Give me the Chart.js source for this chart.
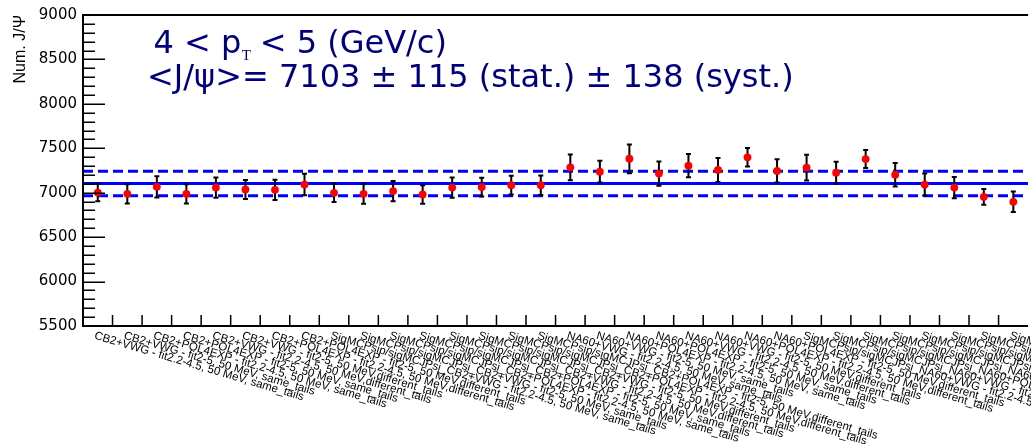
<!DOCTYPE html>
<html><head><meta charset="utf-8">
<script src="https://cdn.jsdelivr.net/npm/chart.js@4.4.1/dist/chart.umd.min.js"></script>
<style>html,body{margin:0;padding:0;overflow:hidden;background:#fff;width:1031px;height:444px}canvas{display:block}</style>
</head><body>
<canvas id="c" width="1032" height="444"></canvas>
<script>
const categories = [
  "CB2+VWG - fit2.2-4.5, 50 MeV, same_tails",
  "CB2+VWG - fit2-5, 50 MeV, same_tails",
  "CB2+POL4EXP - fit2.2-4.5, 50 MeV, same_tails",
  "CB2+POL4EXP - fit2-5, 50 MeV, same_tails",
  "CB2+VWG - fit2.2-4.5, 50 MeV,different_tails",
  "CB2+VWG - fit2-5, 50 MeV,different_tails",
  "CB2+POL4EXP - fit2.2-4.5, 50 MeV,different_tails",
  "CB2+POL4EXP - fit2-5, 50 MeV,different_tails",
  "SigMCPsip/sigMCJPsi_CB2+VWG - fit2.2-4.5, 50 MeV, same_tails",
  "SigMCPsip/sigMCJPsi_CB2+VWG - fit2-5, 50 MeV, same_tails",
  "SigMCPsip/sigMCJPsi_CB2+POL4EXP - fit2.2-4.5, 50 MeV, same_tails",
  "SigMCPsip/sigMCJPsi_CB2+POL4EXP - fit2-5, 50 MeV, same_tails",
  "SigMCPsip/sigMCJPsi_CB2+VWG - fit2.2-4.5, 50 MeV,different_tails",
  "SigMCPsip/sigMCJPsi_CB2+VWG - fit2-5, 50 MeV,different_tails",
  "SigMCPsip/sigMCJPsi_CB2+POL4EXP - fit2.2-4.5, 50 MeV,different_tails",
  "SigMCPsip/sigMCJPsi_CB2+POL4EXP - fit2-5, 50 MeV,different_tails",
  "NA60+VWG - fit2.2-4.5, 50 MeV, same_tails",
  "NA60+VWG - fit2-5, 50 MeV, same_tails",
  "NA60+POL4EXP - fit2.2-4.5, 50 MeV, same_tails",
  "NA60+POL4EXP - fit2-5, 50 MeV, same_tails",
  "NA60+VWG - fit2.2-4.5, 50 MeV,different_tails",
  "NA60+VWG - fit2-5, 50 MeV,different_tails",
  "NA60+POL4EXP - fit2.2-4.5, 50 MeV,different_tails",
  "NA60+POL4EXP - fit2-5, 50 MeV,different_tails",
  "SigMCPsip/sigMCJPsi_NA60+VWG - fit2.2-4.5, 50 MeV, same_tails",
  "SigMCPsip/sigMCJPsi_NA60+VWG - fit2-5, 50 MeV, same_tails",
  "SigMCPsip/sigMCJPsi_NA60+POL4EXP - fit2.2-4.5, 50 MeV, same_tails",
  "SigMCPsip/sigMCJPsi_NA60+POL4EXP - fit2-5, 50 MeV, same_tails",
  "SigMCPsip/sigMCJPsi_NA60+VWG - fit2.2-4.5, 50 MeV,different_tails",
  "SigMCPsip/sigMCJPsi_NA60+VWG - fit2-5, 50 MeV,different_tails",
  "SigMCPsip/sigMCJPsi_NA60+POL4EXP - fit2.2-4.5, 50 MeV,different_tails",
  "SigMCPsip/sigMCJPsi_NA60+POL4EXP - fit2-5, 50 MeV,different_tails"
];
const values = [7002, 6988, 7066, 6988, 7058, 7036, 7032, 7092,
                6999, 6988, 7018, 6980, 7058, 7063, 7085, 7085,
                7286, 7237, 7382, 7215, 7304, 7256, 7398, 7245,
                7282, 7226, 7379, 7203, 7092, 7058, 6954, 6898];
const statErrors = [98, 108, 120, 108, 114, 106, 114, 121,
                    104, 112, 114, 104, 114, 106, 106, 110,
                    145, 123, 162, 136, 131, 136, 104, 131,
                    145, 123, 101, 132, 123, 120, 89, 115];
const meanYield = 7103;
const meanStat = 115;
const meanSyst = 138;
const yMin = 5500, yMax = 9000, yMajorStep = 500, yMinorStep = 100;
const yTitle = "Num. J/\u03A8";
const titleLine1 = ["4 < p", "T", " < 5 (GeV/c)"];
const titleLine2 = "<J/\u03C8>= " + meanYield + " \u00B1 " + meanStat + " (stat.) \u00B1 " + meanSyst + " (syst.)";

const NAVY = "#00007f";

const rootStyle = {
  id: "rootStyle",
  beforeDatasetsDraw(chart) {
    const {ctx, chartArea: a, scales: {x, y}} = chart;
    ctx.save();
    ctx.beginPath();
    ctx.rect(a.left, a.top, a.right - a.left, a.bottom - a.top);
    ctx.clip();
    ctx.strokeStyle = "#0000ff";
    ctx.lineWidth = 3;
    [[meanYield, []], [meanYield + meanSyst, [10, 5]], [meanYield - meanSyst, [10, 5]]].forEach(([v, d]) => {
      const py = y.getPixelForValue(v);
      ctx.setLineDash(d);
      ctx.beginPath();
      ctx.moveTo(a.left, py);
      ctx.lineTo(a.right, py);
      ctx.stroke();
    });
    ctx.setLineDash([]);
    ctx.strokeStyle = "#000";
    ctx.lineWidth = 2;
    values.forEach((v, i) => {
      const px = x.getPixelForValue(i);
      const y1 = y.getPixelForValue(v + statErrors[i]);
      const y2 = y.getPixelForValue(v - statErrors[i]);
      ctx.beginPath();
      ctx.moveTo(px, y1); ctx.lineTo(px, y2);
      ctx.moveTo(px - 2.5, y1); ctx.lineTo(px + 2.5, y1);
      ctx.moveTo(px - 2.5, y2); ctx.lineTo(px + 2.5, y2);
      ctx.stroke();
    });
    ctx.restore();
  },
  afterDraw(chart) {
    const {ctx, chartArea: a, scales: {x, y}} = chart;
    ctx.save();
    // frame
    ctx.strokeStyle = "#000";
    ctx.lineWidth = 2;
    ctx.beginPath();
    ctx.moveTo(a.left, a.bottom + 1); ctx.lineTo(a.left, a.top);
    ctx.lineTo(a.right, a.top);
    ctx.moveTo(a.left, a.bottom); ctx.lineTo(a.right, a.bottom);
    ctx.stroke();
    // y ticks (inside)
    ctx.lineWidth = 1.5;
    ctx.beginPath();
    for (let v = yMin; v <= yMax; v += yMinorStep) {
      const py = Math.round(y.getPixelForValue(v)) + 0.25;
      const len = (v % yMajorStep === 0) ? 22 : 12;
      ctx.moveTo(a.left, py); ctx.lineTo(a.left + len, py);
    }
    ctx.stroke();
    // x ticks at bin edges
    ctx.beginPath();
    for (let i = 1; i < categories.length; i++) {
      const px = (x.getPixelForValue(i - 1) + x.getPixelForValue(i)) / 2;
      ctx.moveTo(px, a.bottom); ctx.lineTo(px, a.bottom - 11);
    }
    ctx.stroke();
    // x labels rotated
    ctx.fillStyle = "#000";
    ctx.font = '11.5px "Liberation Sans", Arial, sans-serif';
    ctx.textAlign = "left";
    ctx.textBaseline = "top";
    categories.forEach((lab, i) => {
      const px = x.getPixelForValue(i);
      ctx.save();
      ctx.translate(px - 1.5, a.bottom + 4);
      ctx.rotate(16.5 * Math.PI / 180);
      ctx.fillText(lab, 0, 0);
      ctx.restore();
    });
    // header text
    ctx.fillStyle = NAVY;
    ctx.textBaseline = "alphabetic";
    ctx.font = '32px "DejaVu Sans", sans-serif';
    ctx.fillText(titleLine1[0], 153.5, 52.7);
    const w0 = ctx.measureText(titleLine1[0]).width;
    ctx.font = '15px "Liberation Serif", serif';
    ctx.fillText(titleLine1[1], 153.5 + w0 + 0.5, 59.5);
    const w1 = ctx.measureText(titleLine1[1]).width;
    ctx.font = '32px "DejaVu Sans", sans-serif';
    ctx.fillText(titleLine1[2], 153.5 + w0 + w1 - 1, 52.7);
    ctx.fillText(titleLine2, 147, 87.3);
    ctx.restore();
  }
};

new Chart(document.getElementById("c"), {
  type: "line",
  data: {
    labels: categories,
    datasets: [{
      data: values,
      showLine: false,
      pointRadius: 3.9,
      pointHoverRadius: 3.9,
      pointBackgroundColor: "#ff0000",
      pointBorderColor: "#ff0000",
      pointBorderWidth: 0
    }]
  },
  options: {
    responsive: false,
    animation: false,
    devicePixelRatio: 1,
    layout: {padding: {top: 13, right: 0, left: 0, bottom: 0}},
    plugins: {legend: {display: false}, tooltip: {enabled: false}},
    scales: {
      x: {
        type: "category",
        offset: true,
        grid: {display: false, drawTicks: false},
        border: {display: false},
        ticks: {display: false},
        afterFit: s => { s.height = 118; }
      },
      y: {
        min: yMin, max: yMax,
        grid: {display: false, drawTicks: false},
        border: {display: false},
        ticks: {
          stepSize: yMajorStep,
          padding: 6,
          color: "#000",
          font: {family: '"DejaVu Sans", sans-serif', size: 15},
          callback: v => String(v)
        },
        title: {
          display: true,
          text: yTitle,
          align: "end",
          color: "#000",
          font: {family: '"Liberation Sans", Arial, sans-serif', size: 16},
          padding: {top: 11, bottom: 0}
        },
        afterFit: s => { s.width = 83; }
      }
    }
  },
  plugins: [rootStyle]
});
</script>
</body></html>
